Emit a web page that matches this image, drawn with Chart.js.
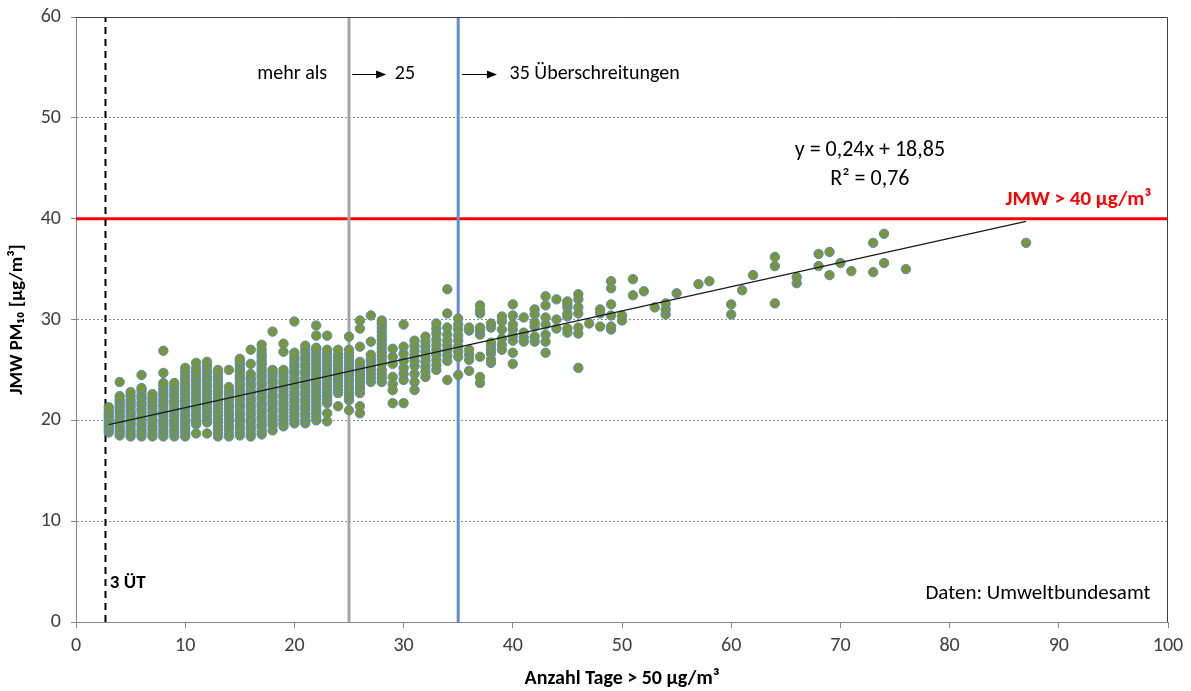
<!DOCTYPE html>
<html>
<head>
<meta charset="utf-8">
<script src="https://cdn.jsdelivr.net/npm/chart.js@4/dist/chart.umd.min.js"></script>
<style>
  html, body { margin: 0; padding: 0; background: #fff; }
  #wrap { width: 1191px; height: 691px; position: relative; }
</style>
</head>
<body>
<div id="wrap"><canvas id="pmChart" width="1191" height="691"></canvas></div>
<script>
"use strict";

// Anzahl Tage > 50 µg/m³ (one entry per column of points)
const columnX = [3, 4, 5, 6, 7, 8, 9, 10, 11, 12, 13, 14, 15, 16, 17, 18, 19, 20, 21, 22,
    23, 24, 25, 26, 27, 28, 29, 30, 31, 32, 33, 34, 35, 36, 37, 38, 39, 40, 41, 42,
    43, 44, 45, 46, 47, 48, 49, 50, 51, 52, 53, 54, 55, 57, 58, 60, 61, 62, 64, 66,
    68, 69, 70, 71, 73, 74, 76, 87];

// JMW PM10 of the stations in each column
const columnY = [
    [18.8, 19.1, 19.4, 19.7, 20.0, 20.3, 20.6, 20.9, 21.3],
    [18.5, 18.8, 19.1, 19.4, 19.8, 20.1, 20.4, 20.8, 21.1, 21.4, 21.7, 22.0, 22.4, 23.8],
    [18.4, 18.7, 19.0, 19.4, 19.7, 20.0, 20.4, 20.7, 21.0, 21.4, 21.7, 22.0, 22.4, 22.8],
    [18.4, 18.7, 19.0, 19.4, 19.7, 20.1, 20.4, 20.8, 21.1, 21.5, 21.8, 22.2, 22.5, 22.9, 23.2, 24.5],
    [18.4, 18.7, 19.1, 19.4, 19.8, 20.1, 20.5, 20.8, 21.2, 21.5, 21.9, 22.2, 22.6],
    [18.4, 18.7, 19.0, 19.4, 19.7, 20.0, 20.4, 20.7, 21.0, 21.4, 21.7, 22.0, 22.4, 22.7, 23.0, 23.4, 23.7, 24.7, 26.9],
    [18.4, 18.8, 19.1, 19.5, 19.8, 20.2, 20.5, 20.9, 21.2, 21.6, 21.9, 22.3, 22.6, 23.0, 23.3, 23.7],
    [18.4, 18.7, 19.1, 19.4, 19.8, 20.1, 20.5, 20.8, 21.2, 21.5, 21.9, 22.2, 22.6, 22.9, 23.3, 23.6, 24.0, 24.4, 24.8, 25.2],
    [18.7, 19.6, 19.9, 20.3, 20.6, 21.0, 21.3, 21.7, 22.0, 22.4, 22.7, 23.1, 23.4, 23.8, 24.1, 24.5, 24.8, 25.2, 25.7],
    [18.7, 19.8, 20.1, 20.5, 20.8, 21.2, 21.5, 21.9, 22.2, 22.6, 22.9, 23.3, 23.6, 24.0, 24.3, 24.7, 25.0, 25.4, 25.8],
    [18.4, 18.7, 19.1, 19.4, 19.8, 20.1, 20.5, 20.8, 21.2, 21.5, 21.9, 22.2, 22.6, 22.9, 23.3, 23.6, 24.0, 24.3, 24.7, 25.0],
    [18.4, 18.7, 19.1, 19.4, 19.8, 20.1, 20.5, 20.8, 21.2, 21.5, 21.9, 22.2, 22.6, 22.9, 23.3, 25.0],
    [18.5, 18.8, 19.2, 19.5, 19.9, 20.2, 20.6, 20.9, 21.3, 21.6, 22.0, 22.3, 22.7, 23.0, 23.4, 23.7, 24.1, 24.4, 24.8, 25.1, 25.5, 25.8, 26.1],
    [18.4, 18.7, 19.1, 19.4, 19.8, 20.1, 20.5, 20.8, 21.2, 21.5, 21.9, 22.2, 22.6, 22.9, 23.3, 23.6, 24.0, 24.2, 24.6, 25.6, 27.0],
    [18.6, 18.9, 19.3, 19.6, 20.0, 20.3, 20.7, 21.0, 21.4, 21.7, 22.1, 22.4, 22.8, 23.1, 23.5, 23.8, 24.2, 24.5, 24.9, 25.2, 25.6, 25.9, 26.3, 26.6, 27.0, 27.5],
    [19.0, 19.5, 19.8, 20.2, 20.5, 20.9, 21.2, 21.6, 21.9, 22.3, 22.6, 23.0, 23.3, 23.7, 24.0, 24.4, 24.7, 25.0, 28.8],
    [19.4, 19.7, 20.1, 20.4, 20.8, 21.1, 21.5, 21.8, 22.2, 22.5, 22.9, 23.2, 23.6, 23.9, 24.3, 24.7, 25.0, 26.8, 27.6],
    [19.7, 20.0, 20.4, 20.7, 21.1, 21.4, 21.8, 22.1, 22.5, 22.8, 23.2, 23.5, 23.9, 24.2, 24.6, 24.9, 25.3, 25.6, 26.0, 26.3, 26.7, 29.8],
    [19.7, 20.0, 20.4, 20.7, 21.1, 21.4, 21.8, 22.1, 22.5, 22.8, 23.2, 23.5, 23.9, 24.2, 24.6, 24.9, 25.3, 25.6, 26.0, 26.3, 26.7, 27.0, 27.4],
    [20.0, 20.3, 20.7, 21.0, 21.4, 21.7, 22.1, 22.4, 22.8, 23.1, 23.5, 23.8, 24.2, 24.5, 24.9, 25.2, 25.6, 25.9, 26.3, 26.6, 27.0, 27.2, 28.4, 29.4],
    [19.9, 20.7, 21.7, 22.0, 22.4, 22.7, 23.1, 23.4, 23.8, 24.1, 24.5, 24.8, 25.2, 25.5, 25.9, 26.2, 26.6, 27.0, 28.4],
    [21.4, 22.7, 23.0, 23.4, 23.7, 24.1, 24.4, 24.8, 25.1, 25.5, 25.8, 26.2, 26.5, 27.0],
    [21.0, 22.0, 22.4, 22.7, 23.1, 23.4, 23.8, 24.1, 24.5, 24.8, 25.2, 25.5, 25.9, 26.2, 26.6, 27.0, 28.3],
    [20.7, 21.4, 22.7, 23.1, 23.4, 23.8, 24.1, 24.5, 24.8, 25.2, 25.5, 25.8, 27.3, 29.1, 29.9],
    [23.8, 24.2, 24.6, 25.0, 25.4, 25.8, 26.1, 26.5, 27.8, 30.4],
    [23.8, 24.2, 24.6, 25.0, 25.6, 26.0, 26.4, 26.8, 27.2, 27.6, 28.0, 28.4, 28.8, 29.2, 29.6, 29.9],
    [21.7, 23.0, 23.6, 24.3, 25.6, 26.3, 27.1],
    [21.7, 24.0, 24.6, 25.2, 25.9, 26.6, 27.3, 29.5],
    [23.0, 23.8, 24.6, 25.4, 25.9, 26.4, 26.9, 27.4, 27.9],
    [24.3, 24.8, 25.3, 25.8, 26.3, 26.8, 27.3, 27.8, 28.3],
    [25.0, 25.5, 26.0, 26.5, 27.0, 27.5, 28.0, 28.6, 29.1, 29.6],
    [24.0, 25.9, 26.4, 26.9, 27.4, 27.9, 28.5, 29.2, 30.6, 33.0],
    [24.5, 26.3, 26.8, 27.3, 27.9, 28.4, 29.0, 29.5, 30.1],
    [24.9, 26.0, 26.5, 27.0, 28.9, 29.2],
    [23.7, 24.3, 26.3, 28.5, 28.9, 29.2, 30.6, 30.9, 31.4],
    [25.7, 26.0, 26.6, 27.0, 27.4, 27.7, 29.2, 29.6],
    [27.0, 27.5, 28.1, 29.0, 29.8, 30.3],
    [25.6, 26.7, 27.9, 28.4, 29.0, 29.5, 30.4, 31.5],
    [27.8, 28.2, 28.7, 30.2],
    [27.8, 28.3, 29.3, 29.7, 30.5, 31.0],
    [26.7, 27.8, 28.5, 29.5, 30.2, 31.4, 32.3],
    [29.1, 30.0, 32.0],
    [28.7, 29.1, 30.3, 30.6, 31.2, 31.5, 31.8],
    [25.2, 28.6, 29.2, 30.6, 31.2, 32.0, 32.5],
    [29.6],
    [29.3, 30.6, 31.0],
    [29.0, 29.3, 30.4, 31.5, 33.1, 33.8],
    [29.9, 30.4],
    [32.4, 34.0],
    [32.8],
    [31.2],
    [30.5, 31.0, 31.6],
    [32.6],
    [33.5],
    [33.8],
    [30.5, 31.5],
    [32.9],
    [34.4],
    [31.6, 35.3, 36.2],
    [33.6, 34.2],
    [35.3, 36.5],
    [34.4, 36.7],
    [35.6],
    [34.8],
    [34.7, 37.6],
    [35.6, 38.5],
    [35.0],
    [37.6]
];

// linear trend given in the chart: y = 0,24x + 18,85
const trendSlope = 0.24;
const trendIntercept = 18.85;
const trendRange = [3, 87];

// reference lines
const limit3Days = 2.7;
const limit25Days = 25;
const limit35Days = 35;
const limitAnnualMean = 40;

const xTicks = [0, 10, 20, 30, 40, 50, 60, 70, 80, 90, 100];
const yTicks = [0, 10, 20, 30, 40, 50, 60];

const FONT = 'Carlito, Lato, "Open Sans", sans-serif';

const stationPoints = columnX.flatMap((x, i) => columnY[i].map(y => ({ x: x, y: y })));
const trendPoints = trendRange.map(x => ({ x: x, y: trendSlope * x + trendIntercept }));

function verticalLine(x) {
    return [{ x: x, y: yTicks[0] }, { x: x, y: yTicks[yTicks.length - 1] }];
}

const notes = [
    { text: 'mehr als', x: 23.0, y: 54.3, align: 'right', font: '20px ' + FONT, color: '#000' },
    { text: '25', x: 29.2, y: 54.3, align: 'left', font: '20px ' + FONT, color: '#000' },
    { text: '35 Überschreitungen', x: 39.7, y: 54.3, align: 'left', font: '20px ' + FONT, color: '#000' },
    { text: 'y = 0,24x + 18,85', x: 72.7, y: 46.8, align: 'center', font: '22px ' + FONT, color: '#000' },
    { text: 'R² = 0,76', x: 72.7, y: 43.85, align: 'center', font: '22px ' + FONT, color: '#000' },
    { text: 'JMW > 40 µg/m³', x: 91.8, y: 41.9, align: 'center', font: 'bold 21px ' + FONT, color: '#ff0000' },
    { text: '3 ÜT', x: 3.1, y: 3.8, align: 'left', font: 'bold 19px ' + FONT, color: '#000' },
    { text: 'Daten: Umweltbundesamt', x: 98.4, y: 2.8, align: 'right', font: '21px ' + FONT, color: '#000' }
];

const arrows = [
    { from: 25.3, to: 28.4, y: 54.3 },
    { from: 35.35, to: 38.55, y: 54.3 }
];

const annotationPlugin = {
    id: 'annotations',
    afterDatasetsDraw(chart) {
        const { ctx, chartArea, scales } = chart;
        const xs = scales.x;
        const ys = scales.y;
        ctx.save();

        // frame on top and right
        ctx.strokeStyle = '#404040';
        ctx.lineWidth = 1;
        ctx.beginPath();
        ctx.moveTo(chartArea.left, chartArea.top + 0.5);
        ctx.lineTo(chartArea.right - 0.5, chartArea.top + 0.5);
        ctx.lineTo(chartArea.right - 0.5, chartArea.bottom);
        ctx.stroke();

        ctx.textBaseline = 'middle';
        notes.forEach(n => {
            ctx.font = n.font;
            ctx.fillStyle = n.color;
            ctx.textAlign = n.align;
            ctx.fillText(n.text, xs.getPixelForValue(n.x), ys.getPixelForValue(n.y));
        });

        ctx.strokeStyle = '#000';
        ctx.fillStyle = '#000';
        ctx.lineWidth = 1;
        arrows.forEach(a => {
            const x1 = xs.getPixelForValue(a.from);
            const x2 = xs.getPixelForValue(a.to);
            const py = Math.round(ys.getPixelForValue(a.y)) + 0.5;
            ctx.beginPath();
            ctx.moveTo(x1, py);
            ctx.lineTo(x2 - 8, py);
            ctx.stroke();
            ctx.beginPath();
            ctx.moveTo(x2, py);
            ctx.lineTo(x2 - 10, py - 4);
            ctx.lineTo(x2 - 10, py + 4);
            ctx.closePath();
            ctx.fill();
        });
        ctx.restore();
    }
};

const ctx = document.getElementById('pmChart').getContext('2d');
new Chart(ctx, {
    type: 'scatter',
    data: {
        datasets: [
            {
                label: 'Trend',
                type: 'line',
                data: trendPoints,
                borderColor: '#1a1a1a',
                borderWidth: 1.3,
                pointRadius: 0,
                order: 0
            },
            {
                label: 'Stationen',
                data: stationPoints,
                backgroundColor: '#77973a',
                borderColor: '#5b8ac2',
                borderWidth: 1,
                pointRadius: 4.7,
                order: 1
            },
            {
                label: '3 ÜT',
                type: 'line',
                data: verticalLine(limit3Days),
                borderColor: '#000',
                borderWidth: 2,
                borderDash: [7, 5],
                pointRadius: 0,
                order: 2
            },
            {
                label: '25',
                type: 'line',
                data: verticalLine(limit25Days),
                borderColor: '#a6a6a6',
                borderWidth: 3,
                pointRadius: 0,
                order: 2
            },
            {
                label: '35',
                type: 'line',
                data: verticalLine(limit35Days),
                borderColor: '#5b8ed6',
                borderWidth: 3,
                pointRadius: 0,
                order: 2
            },
            {
                label: 'JMW 40',
                type: 'line',
                data: [{ x: xTicks[0], y: limitAnnualMean }, { x: xTicks[xTicks.length - 1], y: limitAnnualMean }],
                borderColor: '#ff0000',
                borderWidth: 3,
                pointRadius: 0,
                order: 2
            }
        ]
    },
    options: {
        responsive: false,
        animation: false,
        layout: { padding: { top: 17, right: 23, left: 0, bottom: 0 } },
        plugins: {
            legend: { display: false },
            tooltip: { enabled: false }
        },
        scales: {
            x: {
                type: 'linear',
                min: xTicks[0],
                max: xTicks[xTicks.length - 1],
                afterBuildTicks: scale => { scale.ticks = xTicks.map(v => ({ value: v })); },
                afterFit: scale => {
                    scale.height = 69;
                    scale.paddingLeft = 0;
                    scale.paddingRight = 0;
                },
                ticks: { color: '#404040', font: { family: FONT, size: 20 }, padding: 6, maxRotation: 0 },
                grid: { drawOnChartArea: false, tickLength: 6, color: '#868686' },
                border: { color: '#868686', width: 1 },
                title: {
                    display: true,
                    text: 'Anzahl Tage > 50 µg/m³',
                    color: '#000',
                    font: { family: FONT, size: 20, weight: 'bold' },
                    padding: { top: 0, bottom: 0 }
                }
            },
            y: {
                min: yTicks[0],
                max: yTicks[yTicks.length - 1],
                afterBuildTicks: scale => { scale.ticks = yTicks.map(v => ({ value: v })); },
                afterFit: scale => {
                    scale.width = 76;
                    scale.paddingTop = 0;
                    scale.paddingBottom = 0;
                },
                ticks: { color: '#404040', font: { family: FONT, size: 20 }, padding: 10 },
                grid: {
                    color: c => (c.tick && (c.tick.value === 0 || c.tick.value === 60)) ? 'rgba(0,0,0,0)' : '#8c8c8c',
                    tickColor: '#868686',
                    tickLength: 5
                },
                border: { color: '#868686', width: 1, dash: [2, 2] },
                title: {
                    display: true,
                    text: 'JMW PM₁₀ [µg/m³]',
                    color: '#000',
                    font: { family: FONT, size: 19, weight: 'bold' },
                    padding: { top: 6, bottom: 0 }
                }
            }
        }
    },
    plugins: [annotationPlugin]
});
</script>
</body>
</html>
